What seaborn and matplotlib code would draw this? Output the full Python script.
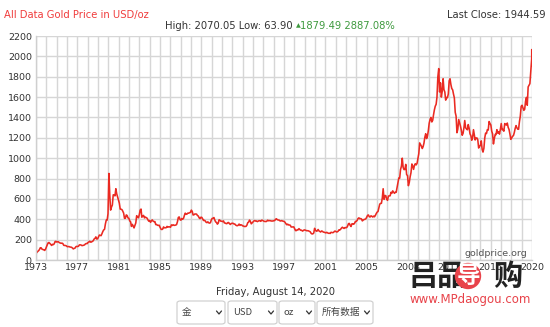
import numpy as np
import pandas as pd
import matplotlib
matplotlib.use("Agg")
import matplotlib.pyplot as plt
import matplotlib.dates as mdates
from matplotlib.patches import FancyBboxPatch
from matplotlib.lines import Line2D
import seaborn as sns

# ---------------- data (monthly, USD/oz) ----------------
prices_1970s = [
    65, 74, 84, 91, 102, 120, 120, 106, 103, 100, 94, 106,        # 1973
    129, 150, 168, 172, 163, 154, 143, 154, 151, 159, 181, 183,   # 1974
    176, 180, 178, 170, 167, 164, 166, 161, 144, 143, 142, 139,   # 1975
    131, 131, 132, 128, 126, 125, 118, 109, 114, 117, 131, 134,   # 1976
    132, 136, 148, 149, 147, 141, 143, 145, 149, 158, 162, 161,   # 1977
    173, 178, 184, 175, 177, 183, 189, 206, 212, 227, 206, 208,   # 1978
    227, 245, 242, 239, 257, 279, 295, 301, 355, 392, 392, 455,   # 1979
]
prices_1980s = [
    850, 640, 490, 520, 540, 640, 640, 630, 700, 650, 620, 590,   # 1980
    557, 500, 499, 495, 480, 460, 409, 410, 443, 437, 413, 410,   # 1981
    384, 374, 330, 350, 334, 315, 339, 364, 435, 422, 414, 444,   # 1982
    490, 500, 420, 432, 438, 413, 422, 416, 411, 394, 381, 388,   # 1983
    370, 386, 394, 381, 377, 377, 348, 348, 341, 340, 341, 320,   # 1984
    303, 299, 304, 325, 316, 317, 317, 330, 323, 326, 325, 322,   # 1985
    345, 339, 346, 340, 342, 343, 348, 376, 418, 423, 396, 391,   # 1986
    408, 401, 408, 438, 460, 449, 451, 461, 460, 465, 467, 490,   # 1987
    477, 442, 444, 452, 451, 451, 437, 432, 413, 406, 420, 419,   # 1988
    404, 388, 390, 384, 371, 367, 375, 365, 362, 367, 394, 409,   # 1989
]
prices_1990s = [
    410, 417, 393, 374, 369, 352, 362, 395, 389, 381, 381, 377,   # 1990
    384, 364, 363, 358, 357, 367, 368, 356, 349, 359, 360, 361,   # 1991
    354, 354, 344, 338, 337, 341, 353, 340, 345, 344, 335, 334,   # 1992
    329, 330, 330, 342, 367, 372, 392, 379, 355, 364, 374, 383,   # 1993
    387, 382, 384, 377, 381, 386, 385, 380, 391, 389, 384, 379,   # 1994
    379, 377, 382, 391, 385, 387, 386, 383, 383, 383, 386, 387,   # 1995
    400, 405, 396, 393, 392, 385, 383, 387, 383, 381, 378, 369,   # 1996
    355, 346, 352, 344, 344, 341, 324, 324, 323, 325, 306, 289,   # 1997
    289, 298, 296, 308, 299, 292, 293, 284, 289, 296, 294, 291,   # 1998
    287, 288, 286, 282, 277, 262, 256, 257, 265, 311, 293, 283,   # 1999
]
prices_2000s = [
    285, 300, 286, 280, 275, 285, 282, 274, 273, 270, 266, 272,   # 2000
    266, 262, 263, 261, 272, 270, 268, 273, 283, 283, 276, 276,   # 2001
    282, 296, 294, 302, 314, 322, 314, 310, 319, 317, 319, 333,   # 2002
    357, 359, 340, 329, 355, 356, 351, 360, 379, 379, 389, 407,   # 2003
    414, 405, 407, 403, 384, 392, 398, 400, 405, 420, 439, 442,   # 2004
    424, 423, 434, 429, 422, 431, 424, 438, 456, 470, 476, 510,   # 2005
    549, 555, 557, 610, 700, 596, 633, 632, 598, 586, 628, 629,   # 2006
    631, 665, 655, 679, 667, 655, 665, 665, 713, 754, 806, 803,   # 2007
    889, 922, 1000, 909, 888, 889, 939, 839, 829, 730, 760, 816,  # 2008
    858, 943, 924, 890, 928, 946, 934, 949, 996, 1043, 1150, 1134,  # 2009
]
prices_2010s = [
    1118, 1095, 1113, 1148, 1205, 1240, 1193, 1215, 1271, 1343, 1380, 1400,  # 2010
    1356, 1372, 1424, 1474, 1510, 1529, 1600, 1800, 1880, 1650, 1740, 1600,  # 2011
    1656, 1780, 1673, 1650, 1570, 1596, 1594, 1630, 1760, 1780, 1722, 1684,  # 2012
    1671, 1627, 1593, 1450, 1414, 1250, 1286, 1380, 1349, 1316, 1275, 1225,  # 2013
    1244, 1300, 1370, 1299, 1287, 1279, 1330, 1296, 1239, 1222, 1176, 1201,  # 2014
    1280, 1227, 1179, 1198, 1199, 1181, 1100, 1117, 1125, 1170, 1086, 1060,  # 2015
    1097, 1200, 1246, 1242, 1280, 1276, 1360, 1341, 1326, 1266, 1238, 1140,  # 2016
    1192, 1234, 1231, 1280, 1246, 1260, 1236, 1283, 1340, 1280, 1282, 1265,  # 2017
    1340, 1331, 1325, 1345, 1303, 1282, 1238, 1185, 1198, 1215, 1221, 1250,  # 2018
    1291, 1320, 1300, 1285, 1284, 1359, 1413, 1510, 1520, 1494, 1470, 1480,  # 2019
]
prices_2020 = [1560, 1597, 1520, 1700, 1716, 1732, 1843]        # Jan-Jul 2020
late_dates = ["2020-08-03", "2020-08-06", "2020-08-11", "2020-08-14"]
late_prices = [1975, 2067, 1911, 1944.59]

tick_labels = ["1973", "1977", "1981", "1985", "1989", "1993", "1997",
               "2001", "2005", "2008", "2012", "2016", "2020"]
y_ticks = list(range(0, 2201, 200))

monthly = prices_1970s + prices_1980s + prices_1990s + prices_2000s + prices_2010s + prices_2020
dates = list(pd.date_range("1973-01-01", periods=len(monthly), freq="MS")) + list(pd.to_datetime(late_dates))
df = pd.DataFrame({"date": dates, "price": monthly + late_prices})

# ---------------- figure ----------------
sns.set_theme(style="white")
plt.rcParams["font.family"] = ["DejaVu Sans"]
W, H = 550, 327
fig = plt.figure(figsize=(W / 100, H / 100), dpi=100)


def fx(px):
    return px / W


def fy(py):
    return 1 - py / H


ax = fig.add_axes([fx(36), fy(260), fx(532) - fx(36), fy(36) - fy(260)])
sns.lineplot(data=df, x="date", y="price", ax=ax, color="#ea2a22", linewidth=1.15)

x0 = mdates.date2num(df["date"].iloc[0])
x1 = mdates.date2num(df["date"].iloc[-1])
ax.set_xlim(x0, x1)
ax.set_ylim(0, 2200)
ax.set_xticks(np.linspace(x0, x1, len(tick_labels)))
ax.set_xticklabels(tick_labels)
ax.set_xticks(np.linspace(x0, x1, 4 * (len(tick_labels) - 1) + 1), minor=True)
ax.set_yticks(y_ticks)
ax.set_yticklabels([str(v) for v in y_ticks])
ax.set_xlabel("")
ax.set_ylabel("")
ax.grid(True, which="both", axis="x", color="#d6d6d6", linewidth=1.0)
ax.grid(True, which="major", axis="y", color="#d6d6d6", linewidth=1.0)
ax.set_axisbelow(True)
for s in ["top", "right"]:
    ax.spines[s].set_visible(False)
for s in ["left", "bottom"]:
    ax.spines[s].set_color("#cfcfcf")
    ax.spines[s].set_linewidth(1.0)
ax.tick_params(axis="both", which="both", length=0, labelsize=6.8, labelcolor="#333333")
ax.tick_params(axis="x", pad=2.5)
ax.tick_params(axis="y", pad=3)

# ---------------- header texts ----------------
fig.text(fx(4), fy(15), "All Data Gold Price in USD/oz", color="#f03c3c",
         fontsize=7.2, ha="left", va="center")
fig.text(fx(546), fy(15), "Last Close: 1944.59", color="#333333",
         fontsize=7.2, ha="right", va="center")

renderer = fig.canvas.get_renderer()
t1 = fig.text(fx(165), fy(26), "High: 2070.05 Low: 63.90 ", color="#333333",
              fontsize=7.2, ha="left", va="center")
bb = t1.get_window_extent(renderer)
t2 = fig.text(bb.x1 / W, fy(26), "\u25b2", color="#3f9a3f", fontsize=4.5,
              ha="left", va="center")
bb2 = t2.get_window_extent(renderer)
fig.text(bb2.x1 / W, fy(26), "1879.49 2887.08%", color="#3f9a3f",
         fontsize=7.2, ha="left", va="center")

# watermark of the source
fig.text(fx(496), fy(253), "goldprice.org", color="#555555", fontsize=6.8,
         ha="center", va="center")

# date line
fig.text(fx(275), fy(292), "Friday, August 14, 2020", color="#333333",
         fontsize=7.2, ha="center", va="center")

# ---------------- dropdown boxes ----------------
boxes = [(177, 225, "金"), (228, 277, "USD"), (279, 315, "oz"), (317, 373, "所有数据")]
for (l, r, lab) in boxes:
    top, bot = 301, 324
    p = FancyBboxPatch((fx(l), fy(bot)), fx(r) - fx(l), fy(top) - fy(bot),
                       boxstyle="round,pad=0,rounding_size=0.006",
                       transform=fig.transFigure, facecolor="white",
                       edgecolor="#cccccc", linewidth=0.8)
    fig.patches.append(p)
    fig.text(fx(l + 5), fy((top + bot) / 2), lab, color="#444444", fontsize=6.9,
             ha="left", va="center", family=["Noto Sans CJK SC", "DejaVu Sans"])
    cx, cy = r - 6, (top + bot) / 2
    fig.lines.append(Line2D([fx(cx - 2.5), fx(cx), fx(cx + 2.5)],
                            [fy(cy - 1.5), fy(cy + 1.5), fy(cy - 1.5)],
                            transform=fig.transFigure, color="#333333", linewidth=0.9))

# ---------------- repost watermark ----------------
fig.text(fx(408), fy(276), "吕品", color="#222222", fontsize=21, fontweight="bold",
         ha="left", va="center", family=["Noto Sans CJK SC", "DejaVu Sans"])
fig.text(fx(468), fy(276), "导", color="white", fontsize=17, fontweight="bold",
         ha="center", va="center", family=["Noto Sans CJK SC", "DejaVu Sans"],
         bbox=dict(boxstyle="circle,pad=0.05", fc="#e8434a", ec="none"))
fig.text(fx(508), fy(276), "购", color="#222222", fontsize=21, fontweight="bold",
         ha="center", va="center", family=["Noto Sans CJK SC", "DejaVu Sans"])
fig.text(fx(470), fy(300), "www.MPdaogou.com", color="#e8434a", fontsize=8.5,
         ha="center", va="center")

fig.savefig("out.png", dpi=100)
